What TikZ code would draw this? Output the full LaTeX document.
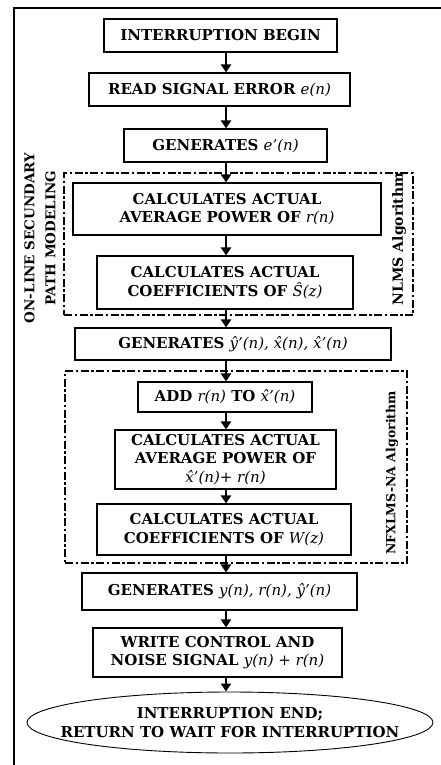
\documentclass[tikz,border=0pt]{standalone}
\usepackage{fontspec}
\setmainfont{DejaVu Serif}
\usetikzlibrary{arrows.meta,shapes.geometric}
\newcommand{\mv}[1]{{\mdseries\itshape #1\/}}
\tikzset{
  box/.style={draw, line width=1.1pt, fill=white, inner sep=0pt, align=center,
    font=\fontsize{15}{18.5}\selectfont\bfseries},
  txt/.style={inner sep=0pt, align=center, font=\fontsize{15}{18.5}\selectfont\bfseries},
  arr/.style={line width=2.8pt, -{Triangle[width=10pt,length=8pt]}},
  algbox/.style={draw, line width=2.6pt, dash pattern=on 8pt off 2.5pt on 2.5pt off 2.5pt, inner sep=0pt},
  sidelabel/.style={rotate=90, inner sep=0pt, align=center, font=\fontsize{12.5}{14}\selectfont\bfseries},
}
\begin{document}
\begin{tikzpicture}[x=1pt,y=-1pt]
\path[use as bounding box] (0,0) rectangle (441,765);
\draw[line width=2pt] (14,765) -- (14,8) -- (441,8);
\coordinate (ax) at (226,0);

\node[algbox, minimum width=349pt, minimum height=142pt] (nlms) at (238.5,244) {};
\node[algbox, minimum width=342pt, minimum height=192pt] (nfx) at (236,467) {};

\node[box, minimum width=233pt, minimum height=33pt] (b1) at (220.5,35.5) {INTERRUPTION BEGIN};
\node[box, minimum width=261pt, minimum height=33pt] (b2) at (219.5,89.5) {READ SIGNAL ERROR \mv{e(n)}};
\node[box, minimum width=203pt, minimum height=33pt] (b3) at (225.5,145.5) {GENERATES \mv{e'(n)}};
\node[box, minimum width=308pt, minimum height=52pt] (b4) at (227,209) {CALCULATES ACTUAL\\AVERAGE POWER OF \mv{r(n)}};
\node[box, minimum width=256pt, minimum height=53pt] (b5) at (225,282.5) {CALCULATES ACTUAL\\COEFFICIENTS OF \mv{Ŝ(z)}};
\node[box, minimum width=316pt, minimum height=32pt] (b6) at (233,344) {GENERATES \mv{ŷ'(n), x̂(n), x̂'(n)}};
\node[box, minimum width=174pt, minimum height=30pt] (b7) at (225,397) {ADD \mv{r(n)} TO \mv{x̂'(n)}};
\node[box, minimum width=221pt, minimum height=59pt] (b8) at (225.5,459.5) {CALCULATES ACTUAL\\AVERAGE POWER OF\\\mv{x̂'(n)+ r(n)}};
\node[box, minimum width=254pt, minimum height=51pt] (b9) at (224,529.5) {CALCULATES ACTUAL\\COEFFICIENTS OF \mv{W(z)}};
\node[box, minimum width=275pt, minimum height=37pt] (b10) at (219.5,591.5) {GENERATES \mv{y(n), r(n), ŷ'(n)}};
\node[box, minimum width=249pt, minimum height=49pt] (b11) at (217.5,652.5) {WRITE CONTROL AND\\NOISE SIGNAL \mv{y(n) + r(n)}};
\node[draw, ellipse, line width=0.9pt, inner sep=0pt, minimum width=406pt, minimum height=61pt] (b12) at (230,722.5) {};
\node[txt] (b12t) at (b12.center) {INTERRUPTION END;\\RETURN TO WAIT FOR INTERRUPTION};

\node[sidelabel, font=\fontsize{13.5}{21}\selectfont\bfseries] (lab1) at (40,238) {ON-LINE SECUNDARY\\PATH MODELING};
\node[sidelabel, font=\fontsize{14}{16}\selectfont\bfseries] (lab2) at (399,239) {NLMS Algorithm};
\node[sidelabel] (lab3) at (392,473) {NFXLMS-NA Algorithm};

\draw[arr] (b1.south -| ax) -- (b2.north -| ax);
\draw[arr] (b2.south -| ax) -- (b3.north -| ax);
\draw[arr] (b3.south -| ax) -- (b4.north -| ax);
\draw[arr] (b4.south -| ax) -- (b5.north -| ax);
\draw[arr] (b5.south -| ax) -- (b6.north -| ax);
\draw[arr] (b6.south -| ax) -- (b7.north -| ax);
\draw[arr] (b7.south -| ax) -- (b8.north -| ax);
\draw[arr] (b8.south -| ax) -- (b9.north -| ax);
\draw[arr] (b9.south -| ax) -- (b10.north -| ax);
\draw[arr] (b10.south -| ax) -- (b11.north -| ax);
\draw[arr] (b11.south -| ax) -- (b12.north -| ax);
\end{tikzpicture}
\end{document}
